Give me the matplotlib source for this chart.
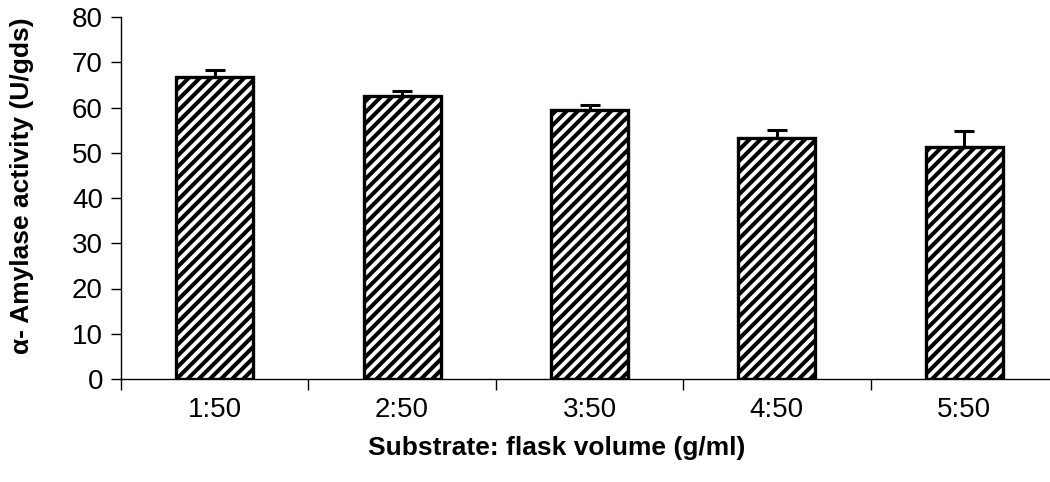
import matplotlib
matplotlib.use("Agg")
import matplotlib.pyplot as plt
import numpy as np

ratios = ["1:50", "2:50", "3:50", "4:50", "5:50"]
activity = [66.7, 62.5, 59.4, 53.3, 51.2]
errors = [1.5, 1.1, 1.1, 1.8, 3.6]

plt.rcParams["font.family"] = ["Liberation Sans", "DejaVu Sans"]
plt.rcParams["hatch.linewidth"] = 2.9

fig = plt.figure(figsize=(10.5, 4.82), dpi=100)
ax = fig.add_axes([121 / 1050, 103 / 482, 937 / 1050, 362 / 482])

x = np.arange(len(ratios)) + 0.5
ax.bar(x, activity, width=0.41, color="white", edgecolor="black",
       linewidth=2.4, hatch="///", zorder=3)
ax.errorbar(x, activity, yerr=[np.zeros(len(errors)), errors], fmt="none",
            ecolor="black", elinewidth=2.2, capsize=7, capthick=2.2, zorder=4)

ax.set_xlim(0, len(ratios))
ax.set_ylim(0, 80)
ax.set_yticks(range(0, 81, 10))
ax.set_xticks(np.arange(len(ratios) + 1))
ax.set_xticklabels([])
ax.set_xticks(x, minor=True)
ax.set_xticklabels(ratios, minor=True)
ax.tick_params(axis="x", which="minor", length=0, labelsize=20, pad=13)
ax.tick_params(axis="x", which="major", length=8, width=1, direction="out")
ax.tick_params(axis="y", length=7, width=1, labelsize=20, direction="out", pad=6)

for side in ("top", "right"):
    ax.spines[side].set_visible(False)
for side in ("left", "bottom"):
    ax.spines[side].set_linewidth(1)

ax.set_xlabel("Substrate: flask volume (g/ml)", fontsize=19, fontweight="bold")
ax.xaxis.set_label_coords(557 / 1050, (482 - 448) / 482, transform=fig.transFigure)
ax.xaxis.label.set_va("center")
ax.set_ylabel("α- Amylase activity (U/gds)", fontsize=19, fontweight="bold")
ax.yaxis.label.set_va("center")
ax.yaxis.set_label_coords(22 / 1050, (482 - 186) / 482, transform=fig.transFigure)

fig.savefig("out.png", dpi=100)
